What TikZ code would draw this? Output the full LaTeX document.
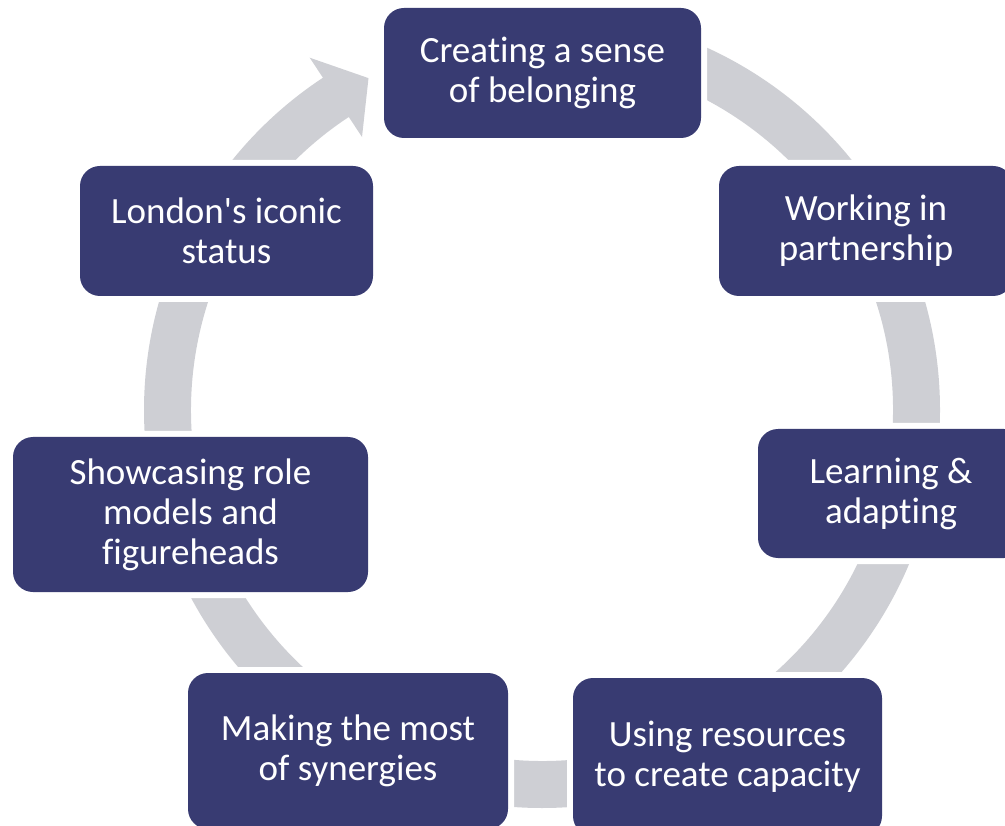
\documentclass[tikz,border=0pt]{standalone}
\usepackage{fontspec}
\setmainfont{Carlito}[Ligatures={NoCommon,NoContextual}]
\usetikzlibrary{calc}
\definecolor{navy}{RGB}{56,59,114}
\definecolor{ringgrey}{RGB}{206,207,212}
\begin{document}
\begin{tikzpicture}[x=0.5pt,y=0.5pt,
  stagebox/.style={fill=navy, rounded corners=10pt, text=white, align=center,
    inner sep=0pt, font=\fontsize{18.5}{20}\selectfont,
    preaction={draw=white, line width=6pt}}]
\useasboundingbox (0,0) rectangle (1005,825);
\clip (0,0) rectangle (1005,825);
\coordinate (c) at (542,415);
% circular arrow running clockwise through all stages
\fill[ringgrey] ($(c)+(90:398)$) arc[start angle=90, end angle=-236.6, radius=199pt]
  -- ($(c)+(123.4:422)$) -- ($(c)+(117.6:374.5)$) -- ($(c)+(123.4:327)$)
  -- ($(c)+(123.4:351)$)
  arc[start angle=-236.6, end angle=90, radius=175.5pt] -- cycle;
% stages
\node[stagebox, minimum width=158.5pt, minimum height=65pt] (n1) at (542.5,752)
  {Creating a sense\\of belonging};
\node[stagebox, minimum width=147pt, minimum height=65pt] (n2) at (866,594)
  {Working in\\partnership};
\node[stagebox, minimum width=133pt, minimum height=64.5pt] (n3) at (891,331.5)
  {Learning \&\\adapting};
\node[stagebox, minimum width=154.5pt, minimum height=79pt] (n4) at (727.5,68)
  {Using resources\\to create capacity};
\node[stagebox, minimum width=160pt, minimum height=78pt] (n5) at (348,74)
  {Making the most\\of synergies};
\node[stagebox, minimum width=177.5pt, minimum height=77.5pt] (n6) at (190.5,310.5)
  {Showcasing role\\models and\\figureheads};
\node[stagebox, minimum width=146.5pt, minimum height=65pt] (n7) at (226.5,594)
  {London\textquotesingle s iconic\\status};
\end{tikzpicture}
\end{document}
